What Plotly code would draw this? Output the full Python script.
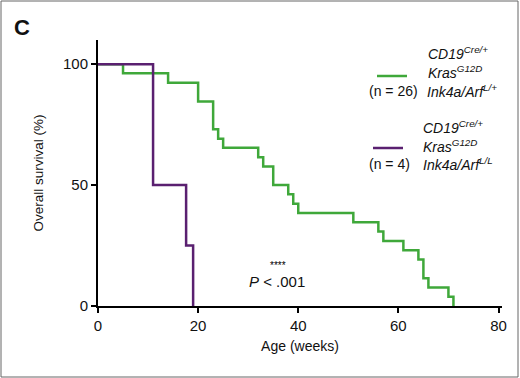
import plotly.graph_objects as go

# Data (Kaplan-Meier steps)
green_weeks = [0, 5, 14, 20, 23, 24, 25, 32, 33, 35, 38, 39, 40, 51, 56, 57, 61, 64, 65, 66, 70, 71]
green_surv = [100, 96.2, 92.3, 84.6, 73.1, 69.2, 65.4, 61.5, 57.7, 50.0, 46.2, 42.3, 38.5,
              34.6, 30.8, 26.9, 23.1, 19.2, 11.5, 7.7, 3.8, 0]
purple_weeks = [0, 11, 11, 17.6, 19]
purple_surv = [100, 75, 50, 25, 0]

x_ticks = [0, 20, 40, 60, 80]
y_ticks = [0, 50, 100]

GREEN = "#3fa83a"
PURPLE = "#5a2070"
BASE = "Liberation Sans, Arial, sans-serif"
TICKFONT = dict(family=BASE, size=15, color="#111")

W, H = 520, 378
ML, MR, MT, MB = 98, 18, 40, 72

fig = go.Figure()
fig.add_trace(go.Scatter(x=green_weeks, y=green_surv, mode="lines", line_shape="hv",
                         line=dict(color=GREEN, width=2.5), showlegend=False))
fig.add_trace(go.Scatter(x=purple_weeks, y=purple_surv, mode="lines", line_shape="hv",
                         line=dict(color=PURPLE, width=2.5), showlegend=False))

fig.update_layout(
    width=W, height=H,
    margin=dict(l=ML, r=MR, t=MT, b=MB),
    paper_bgcolor="white", plot_bgcolor="white",
    xaxis=dict(range=[0, 80.7], tickvals=x_ticks, showgrid=False, zeroline=False,
               showline=True, linecolor="black", linewidth=2,
               ticks="outside", ticklen=5, tickwidth=1.5, tickcolor="black",
               tickfont=TICKFONT,
               title=dict(text="Age (weeks)", font=dict(family=BASE, size=14, color="#111"),
                          standoff=8)),
    yaxis=dict(range=[0, 110], tickvals=y_ticks, showgrid=False, zeroline=False,
               showline=True, linecolor="black", linewidth=2,
               ticks="outside", ticklen=5, tickwidth=1.5, tickcolor="black",
               tickfont=TICKFONT,
               title=dict(text="Overall survival (%)", font=dict(family=BASE, size=13.5, color="#111"),
                          standoff=16)),
)


def px_x(p):
    return (p - ML) / (W - ML - MR)


def px_y(p):
    return (H - MB - p) / (H - MT - MB)


ann_font = dict(family=BASE, size=14, color="#111")
annotations = [
    (22, 28, "<b>C</b>", dict(family=BASE, size=22, color="#111"), "center"),
    (426, 53, "<i>CD19<sup>Cre/+</sup></i>", ann_font, "left"),
    (426, 72, "<i>Kras<sup>G12D</sup></i>", ann_font, "left"),
    (367, 91, "(n = 26)", ann_font, "left"),
    (425, 91, "<i>Ink4a/Arf<sup>L/+</sup></i>", ann_font, "left"),
    (421, 127, "<i>CD19<sup>Cre/+</sup></i>", ann_font, "left"),
    (421, 146, "<i>Kras<sup>G12D</sup></i>", ann_font, "left"),
    (367, 164, "(n = 4)", ann_font, "left"),
    (421, 164, "<i>Ink4a/Arf<sup>L/L</sup></i>", ann_font, "left"),
    (278, 265, "****", dict(family=BASE, size=10, color="#000"), "center"),
    (277, 281, "<i>P</i> < .001", dict(family=BASE, size=15, color="#111"), "center"),
]
for x, y, text, font, xa in annotations:
    fig.add_annotation(xref="paper", yref="paper", showarrow=False, yanchor="middle",
                       xanchor=xa, text=text, font=font, x=px_x(x), y=px_y(y))

# legend line samples
fig.add_shape(type="line", xref="paper", yref="paper", x0=px_x(377), x1=px_x(407),
              y0=px_y(76), y1=px_y(76), line=dict(color=GREEN, width=2.5))
fig.add_shape(type="line", xref="paper", yref="paper", x0=px_x(373), x1=px_x(403),
              y0=px_y(148), y1=px_y(148), line=dict(color=PURPLE, width=2.5))
# thin frame around the panel
fig.add_shape(type="rect", xref="paper", yref="paper", x0=px_x(1), x1=px_x(518), y0=px_y(377), y1=px_y(1),
              line=dict(color="#666", width=1), layer="below")

fig.write_html("out.html", config={"displayModeBar": False},
               post_script="document.body.style.margin='0';document.body.style.padding='0';")
